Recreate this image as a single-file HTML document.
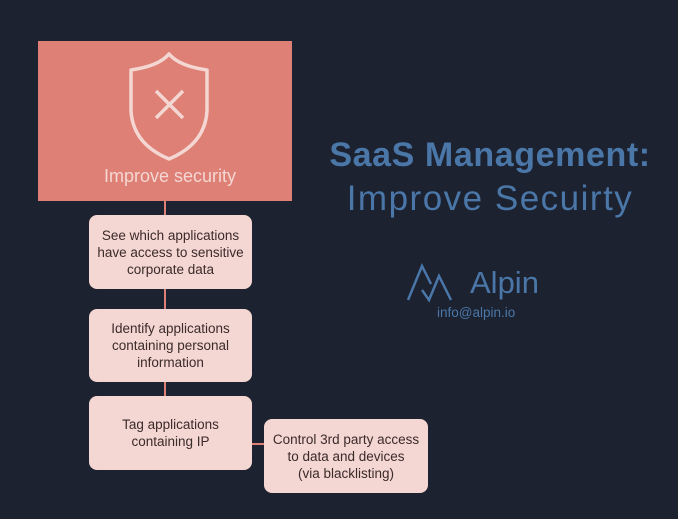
<!DOCTYPE html>
<html><head><style>
body{margin:0;width:678px;height:519px;background:#1c2230;position:relative;overflow:hidden;font-family:"Liberation Sans",sans-serif}
.b{position:absolute;background:#f4d6d2;border-radius:8px;color:#3b2b2b;font-size:13.5px;line-height:17px;text-align:center;display:flex;align-items:center;justify-content:center}
.l{position:absolute;background:#de8075}
</style></head><body>
<div style="position:absolute;left:38px;top:41px;width:254px;height:160px;background:#de8075"></div>
<svg style="position:absolute;left:38px;top:41px" width="254" height="160">
<path d="M131 13 Q141 25 169 29 L169 70 Q167 103 131 118 Q95 103 93 70 L93 29 Q121 25 131 13Z" fill="none" stroke="#f4d6d2" stroke-width="3.5" stroke-linejoin="round"/>
<path d="M118 50 L145 77 M145 50 L118 77" stroke="#f4d6d2" stroke-width="3.5"/>
<text x="132" y="141" fill="#f4d6d2" font-size="18" text-anchor="middle" font-family="Liberation Sans">Improve security</text>
</svg>
<div class="l" style="left:164px;top:201px;width:2px;height:200px"></div>
<div class="l" style="left:252px;top:443px;width:13px;height:2px"></div>
<div class="b" style="left:89px;top:215px;width:163px;height:74px">See which applications<br>have access to sensitive<br>corporate data</div>
<div class="b" style="left:89px;top:309px;width:163px;height:73px">Identify applications<br>containing personal<br>information</div>
<div class="b" style="left:89px;top:396px;width:163px;height:74px">Tag applications<br>containing IP</div>
<div class="b" style="left:264px;top:419px;width:164px;height:74px">Control 3rd party access<br>to data and devices<br>(via blacklisting)</div>
<div style="position:absolute;left:290px;top:136px;width:400px;text-align:center;color:#4a77a8;font-size:34px;font-weight:bold;line-height:38px;letter-spacing:0.6px">SaaS Management:</div>
<div style="position:absolute;left:290px;top:180px;width:400px;text-align:center;color:#4a77a8;font-size:35px;line-height:38px;letter-spacing:1.5px">Improve Secuirty</div>
<svg style="position:absolute;left:405px;top:262px" width="50" height="42">
<path d="M3 38 L17 4 L26 22 M17 28 L24 38 L34 14 L46 38" fill="none" stroke="#4a77a8" stroke-width="2.5"/>
</svg>
<div style="position:absolute;left:470px;top:265px;color:#4a77a8;font-size:31px">Alpin</div>
<div style="position:absolute;left:437px;top:305px;color:#4a77a8;font-size:13.5px">info@alpin.io</div>
</body></html>
